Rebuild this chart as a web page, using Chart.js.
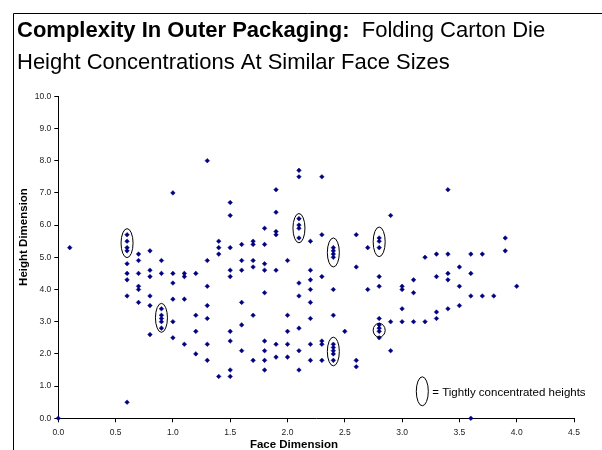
<!DOCTYPE html>
<html>
<head>
<meta charset="utf-8">
<title>Folding Carton Die Heights</title>
<script src="https://cdn.jsdelivr.net/npm/chart.js@4.4.1/dist/chart.umd.min.js"></script>
<style>
    html, body { margin: 0; padding: 0; background: #fff; }
    #wrap { position: relative; width: 602px; height: 450px; }
</style>
</head>
<body>
<div id="wrap"><canvas id="die-chart" width="602" height="450"></canvas></div>
<script>
"use strict";

// ─── Data ─────────────────────────────────────────────────────────────────────

const TITLE_BOLD = "Complexity In Outer Packaging:";
const TITLE_REST = "Folding Carton Die";
const TITLE_LINE2 = "Height Concentrations At Similar Face Sizes";
const X_TITLE = "Face Dimension";
const Y_TITLE = "Height Dimension";
const LEGEND_TEXT = "= Tightly concentrated heights";

const X_TICKS = [0, 0.5, 1.0, 1.5, 2.0, 2.5, 3.0, 3.5, 4.0, 4.5];
const Y_TICKS = [0, 1, 2, 3, 4, 5, 6, 7, 8, 9, 10];

// one entry per face size, heights found at that face size
const FACE_SIZES = [0.0, 0.1, 0.6, 0.7, 0.8, 0.9, 1.0, 1.1, 1.2, 1.3, 1.4, 1.5, 1.6,
                    1.7, 1.8, 1.9, 2.0, 2.1, 2.2, 2.3, 2.4, 2.5, 2.6, 2.7, 2.8, 2.9,
                    3.0, 3.1, 3.2, 3.3, 3.4, 3.5, 3.6, 3.7, 3.8, 3.9, 4.0];
const HEIGHTS = [
    [0.0],
    [5.3],
    [5.7, 5.5, 5.3, 5.2, 4.8, 4.5, 4.3, 3.8, 0.5],
    [5.1, 4.9, 4.5, 4.1, 4.0, 3.6],
    [5.2, 4.6, 4.4, 3.8, 3.5, 2.6],
    [4.9, 4.5, 3.4, 3.2, 3.1, 3.0, 2.8],
    [7.0, 4.5, 4.2, 3.7, 3.0, 2.5],
    [4.5, 4.4, 3.7, 2.3],
    [4.5, 3.2, 2.7, 2.0],
    [8.0, 4.9, 4.1, 3.5, 3.1, 2.3, 1.8],
    [5.5, 5.3, 5.1, 1.3],
    [6.7, 6.3, 5.3, 4.6, 4.4, 2.7, 2.4, 1.5, 1.3],
    [5.4, 4.9, 4.6, 3.6, 2.9, 2.1],
    [5.5, 5.4, 4.9, 4.7, 3.2, 1.8],
    [5.9, 5.4, 4.8, 4.6, 3.9, 2.4, 2.1, 1.8, 1.5],
    [7.1, 6.4, 5.8, 5.7, 4.6, 2.3, 1.9],
    [4.9, 3.2, 2.7, 2.3, 1.9],
    [7.7, 7.5, 6.2, 6.0, 5.9, 5.6, 4.2, 3.8, 2.8, 2.1, 1.5],
    [5.5, 4.6, 4.3, 4.0, 3.6, 3.1, 2.3, 1.8],
    [7.5, 5.7, 4.4, 2.4, 2.3, 1.8],
    [5.3, 5.2, 5.1, 5.0, 4.0, 3.2, 2.3, 2.2, 2.1, 2.0, 1.8],
    [2.7],
    [5.7, 4.7, 1.8, 1.6],
    [5.3, 4.0],
    [5.6, 5.5, 5.3, 4.4, 4.1, 3.1, 2.9, 2.8, 2.7, 2.5],
    [6.3, 3.0, 2.1],
    [4.1, 4.0, 3.4, 3.0],
    [4.3, 3.9, 3.0],
    [5.0, 3.0],
    [5.1, 4.4, 3.3, 3.1],
    [7.1, 5.1, 4.5, 4.3, 3.4],
    [4.7, 4.1, 3.5],
    [5.1, 4.5, 3.8, 0.0],
    [5.1, 3.8],
    [3.8],
    [5.6, 5.2],
    [4.1]
];

// ellipses round the tight clusters: face size and the height span they cover
const CLUSTER_FACE = [0.6, 0.9, 2.1, 2.4, 2.8, 2.8, 2.4];
const CLUSTER_LOW  = [4.99, 2.67, 5.45, 4.70, 5.02, 2.52, 1.63];
const CLUSTER_HIGH = [5.89, 3.57, 6.36, 5.60, 5.94, 2.95, 2.52];

// ─── Style ────────────────────────────────────────────────────────────────────

const FONT = '"Liberation Sans", Arial, sans-serif';
const MARKER = "#000080";

// ─── Build ────────────────────────────────────────────────────────────────────

function _points() {
    var pts = [];
    FACE_SIZES.forEach(function(face, i) {
        HEIGHTS[i].forEach(function(h) { pts.push({ x: face, y: h }); });
    });
    return pts;
}

function _ellipse(ctx, cx, cy, rx, ry) {
    ctx.beginPath();
    ctx.ellipse(cx, cy, rx, ry, 0, 0, Math.PI * 2);
    ctx.stroke();
}

const decorPlugin = {
    id: "decor",
    afterDatasetsDraw: function(chart) {
        var ctx = chart.ctx;
        var xs = chart.scales.x, ys = chart.scales.y;
        var area = chart.chartArea;
        ctx.save();
        ctx.strokeStyle = "#000";
        ctx.lineWidth = 1;

        // cluster ellipses
        CLUSTER_FACE.forEach(function(face, i) {
            var top = ys.getPixelForValue(CLUSTER_HIGH[i]);
            var bot = ys.getPixelForValue(CLUSTER_LOW[i]);
            _ellipse(ctx, xs.getPixelForValue(face), (top + bot) / 2, 6, (bot - top) / 2);
        });

        // legend key
        _ellipse(ctx, area.left + 364, area.bottom - 27, 6, 14.5);
        ctx.fillStyle = "#000";
        ctx.font = "11.5px " + FONT;
        ctx.textBaseline = "middle";
        ctx.fillText(LEGEND_TEXT, area.left + 374, area.bottom - 25);

        // axis titles
        ctx.font = "bold 11.5px " + FONT;
        ctx.textAlign = "center";
        ctx.textBaseline = "alphabetic";
        ctx.fillText(X_TITLE, 294, 448);
        ctx.save();
        ctx.translate(27, 237);
        ctx.rotate(-Math.PI / 2);
        ctx.fillText(Y_TITLE, 0, 0);
        ctx.restore();

        // title: bold lead-in, two spaces, then regular text
        ctx.textAlign = "left";
        ctx.font = "bold 22px " + FONT;
        ctx.fillText(TITLE_BOLD, 17, 37);
        var lead = ctx.measureText(TITLE_BOLD).width;
        ctx.font = "22px " + FONT;
        ctx.fillText(TITLE_REST, 17 + lead + ctx.measureText("  ").width, 37);
        ctx.fillText(TITLE_LINE2, 17, 69);

        // frame
        ctx.lineWidth = 1;
        ctx.beginPath();
        ctx.moveTo(13.5, 450);
        ctx.lineTo(13.5, 13.5);
        ctx.lineTo(602, 13.5);
        ctx.stroke();
        ctx.restore();
    }
};

function _axis(ticks, min, max) {
    return {
        type: "linear",
        min: min,
        max: max,
        afterBuildTicks: function(scale) {
            scale.ticks = ticks.map(function(v) { return { value: v }; });
        },
        grid: { drawOnChartArea: false, drawTicks: true, tickLength: 4, color: "#000" },
        border: { display: true, color: "#000", width: 1 },
        ticks: {
            color: "#222",
            font: { family: FONT, size: 8.5 },
            callback: function(v) { return Number(v).toFixed(1); }
        }
    };
}

// ─── Chart ────────────────────────────────────────────────────────────────────

var xAxis = _axis(X_TICKS, 0, 4.5);
xAxis.ticks.padding = 5;
xAxis.ticks.maxRotation = 0;
xAxis.afterFit = function(scale) { scale.height = 31.7; };

var yAxis = _axis(Y_TICKS, 0, 10);
yAxis.ticks.padding = 3;
yAxis.afterFit = function(scale) { scale.width = 58.3; };

new Chart(document.getElementById("die-chart"), {
    type: "scatter",
    data: {
        datasets: [{
            label: "Die heights",
            data: _points(),
            pointStyle: "rectRot",
            pointRadius: 2.3,
            pointBorderWidth: 0.5,
            backgroundColor: MARKER,
            borderColor: MARKER,
            clip: false
        }]
    },
    options: {
        responsive: false,
        animation: false,
        layout: { padding: { left: 0, top: 96.3, right: 28, bottom: 0 } },
        plugins: { legend: { display: false }, tooltip: { enabled: false } },
        scales: { x: xAxis, y: yAxis }
    },
    plugins: [decorPlugin]
});
</script>
</body>
</html>
